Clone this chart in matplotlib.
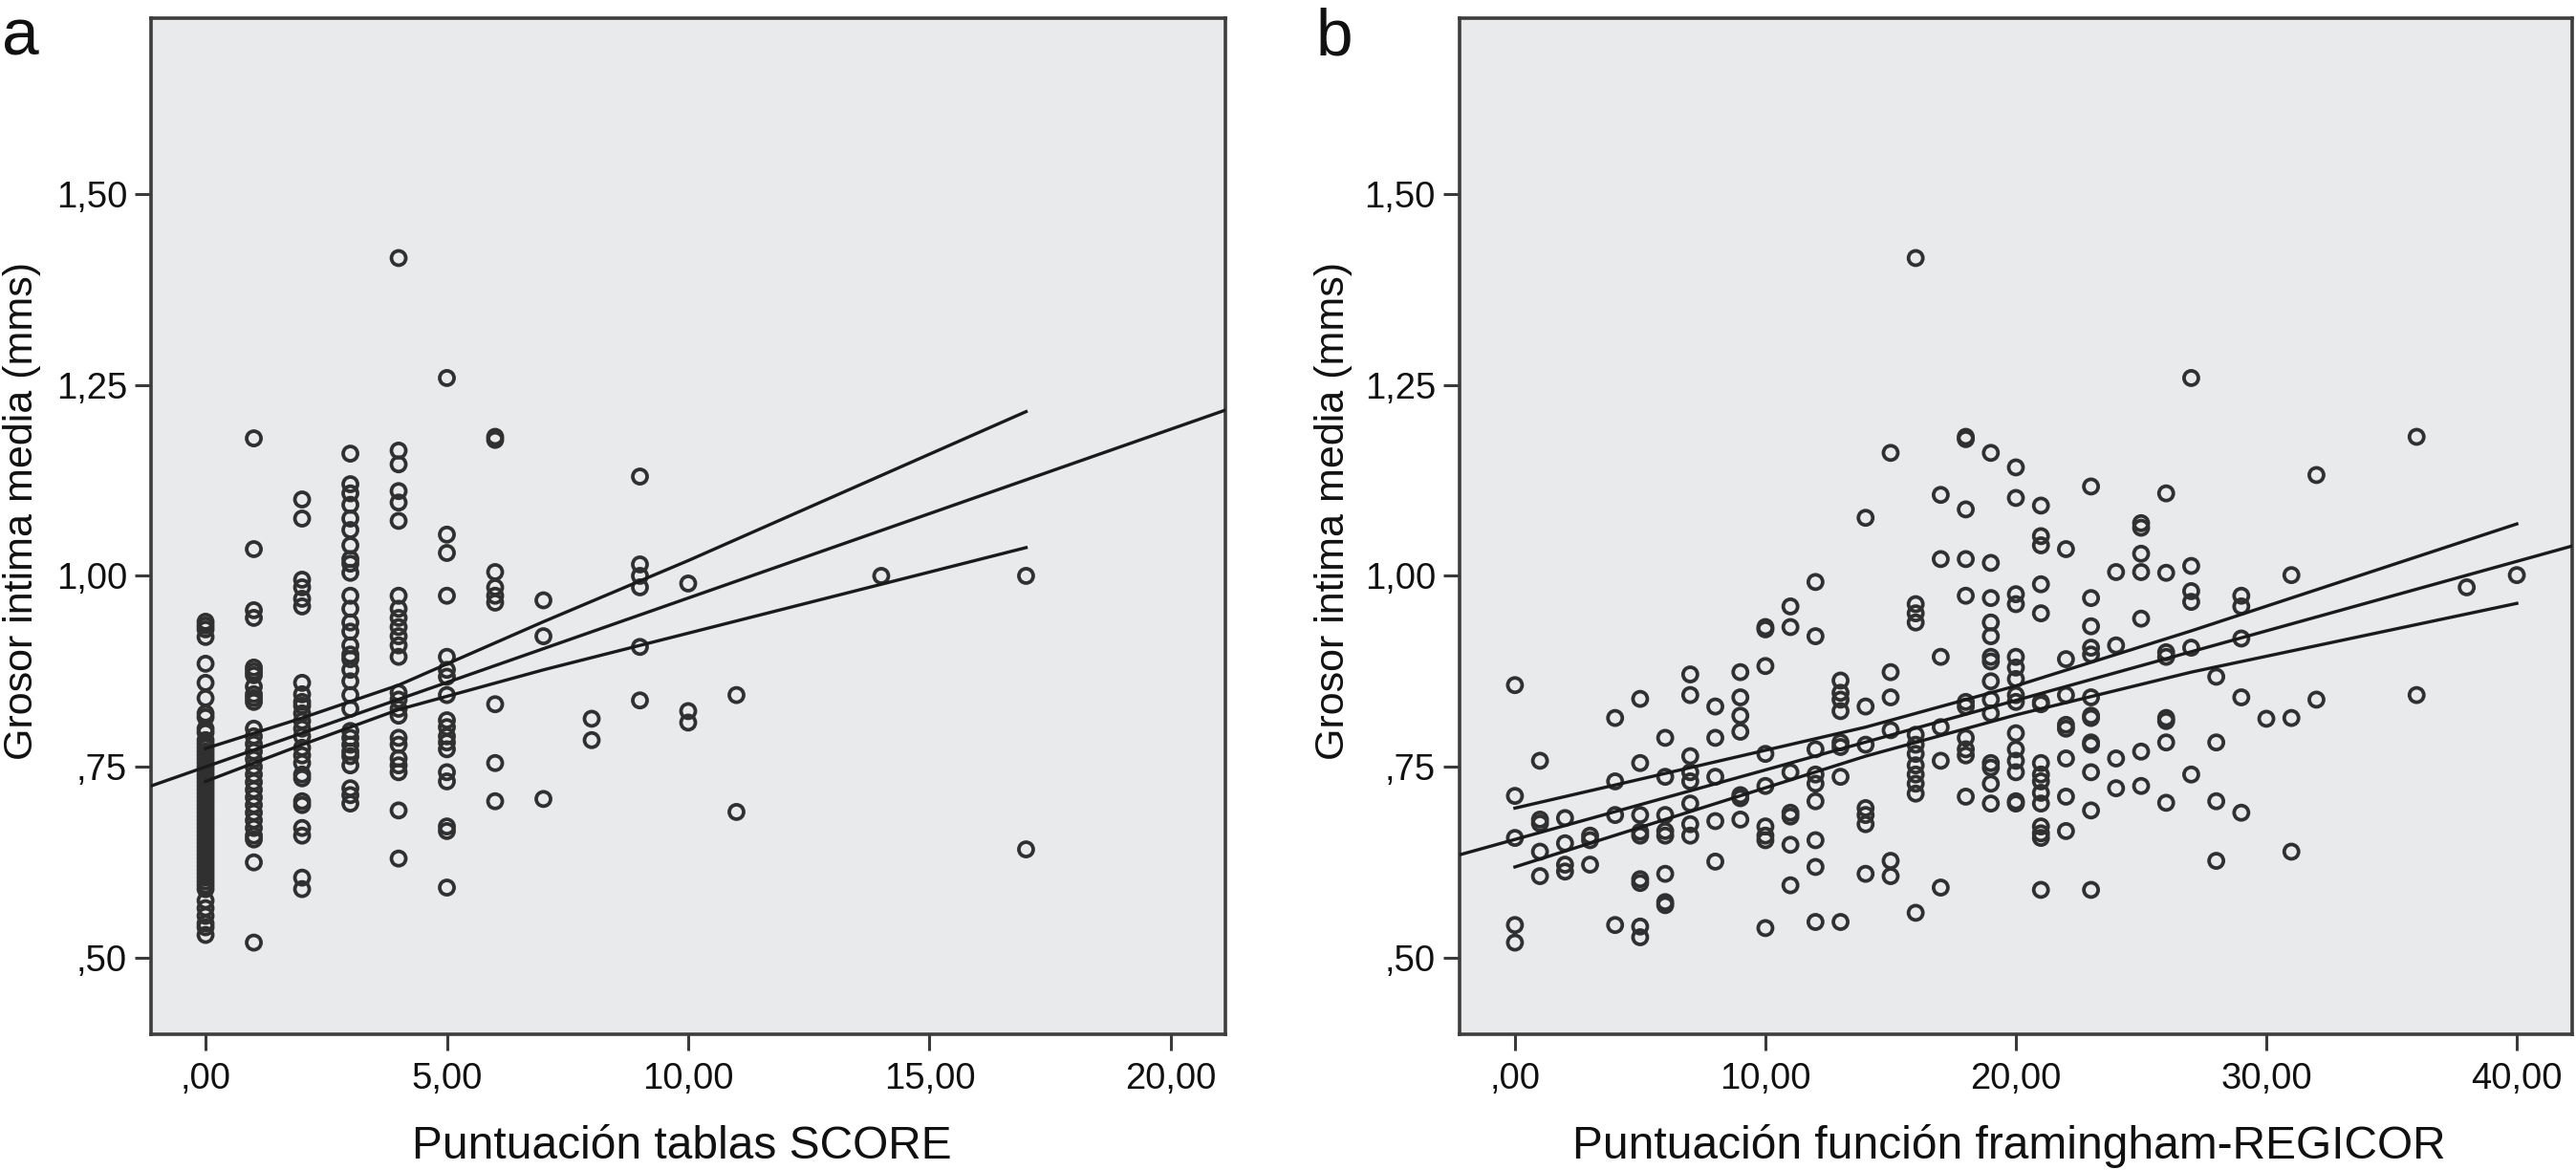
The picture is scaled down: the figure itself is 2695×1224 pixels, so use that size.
import matplotlib
matplotlib.use('Agg')
import matplotlib.pyplot as plt
import numpy as np

plt.rcParams['font.family'] = ['Liberation Sans', 'DejaVu Sans']

# ---- panel a : SCORE ----
SCORE_X = [0, 1, 2, 3, 4, 5, 6, 7, 8, 9, 10, 11, 14, 17]
SCORE_GIM = [
    [0.94, 0.935, 0.93, 0.92, 0.885, 0.86, 0.84, 0.82, 0.815, 0.80, 0.795, 0.785, 0.78, 0.775,
     0.77, 0.765, 0.76, 0.755, 0.75, 0.745, 0.74, 0.735, 0.73, 0.725, 0.72, 0.715, 0.71, 0.705,
     0.70, 0.695, 0.69, 0.685, 0.68, 0.675, 0.67, 0.665, 0.66, 0.655, 0.65, 0.645, 0.64, 0.635,
     0.63, 0.625, 0.62, 0.615, 0.61, 0.605, 0.60, 0.595, 0.59, 0.575, 0.565, 0.555, 0.545, 0.54, 0.53],
    [1.18, 1.035, 0.955, 0.945, 0.88, 0.875, 0.87, 0.855, 0.845, 0.84, 0.835, 0.80, 0.79, 0.78,
     0.77, 0.76, 0.75, 0.74, 0.73, 0.72, 0.71, 0.70, 0.69, 0.68, 0.67, 0.66, 0.655, 0.625, 0.52],
    [1.10, 1.075, 0.995, 0.985, 0.97, 0.96, 0.86, 0.845, 0.835, 0.83, 0.82, 0.81, 0.80, 0.79,
     0.775, 0.765, 0.755, 0.74, 0.735, 0.705, 0.70, 0.67, 0.66, 0.605, 0.59],
    [1.16, 1.12, 1.108, 1.093, 1.075, 1.06, 1.04, 1.022, 1.016, 1.004, 0.974, 0.957, 0.939, 0.927,
     0.909, 0.897, 0.891, 0.877, 0.862, 0.844, 0.826, 0.797, 0.788, 0.779, 0.77, 0.764, 0.752,
     0.722, 0.713, 0.702],
    [1.416, 1.164, 1.146, 1.111, 1.096, 1.072, 0.974, 0.957, 0.945, 0.933, 0.921, 0.909, 0.894,
     0.847, 0.838, 0.826, 0.817, 0.788, 0.779, 0.761, 0.752, 0.743, 0.693, 0.63],
    [1.259, 1.054, 1.03, 0.974, 0.894, 0.877, 0.868, 0.844, 0.811, 0.802, 0.79, 0.782, 0.773,
     0.743, 0.731, 0.672, 0.666, 0.592],
    [1.182, 1.178, 1.005, 0.985, 0.974, 0.965, 0.832, 0.755, 0.705],
    [0.968, 0.921, 0.708],
    [0.813, 0.785],
    [1.13, 1.015, 1.0, 0.985, 0.907, 0.837],
    [0.99, 0.823, 0.808],
    [0.844, 0.691],
    [1.0],
    [1.0, 0.642],
]
SCORE_FIT = (0.750, 0.0221)          # intercept, slope
SCORE_CI_X = [0, 2, 4, 7, 10, 17]
SCORE_CI_UP = [0.774, 0.814, 0.857, 0.94, 1.02, 1.215]
SCORE_CI_LO = [0.731, 0.779, 0.825, 0.877, 0.925, 1.037]

# ---- panel b : framingham-REGICOR ----
REG_X = [0, 1, 2, 3, 4, 5, 6, 7, 8, 9, 10, 11, 12, 13, 14, 15, 16, 17, 18, 19, 20,
         21, 22, 23, 24, 25, 26, 27, 28, 29, 30, 31, 32, 36, 38, 40]
REG_GIM = [
    [0.857, 0.712, 0.657, 0.543, 0.520],
    [0.758, 0.681, 0.676, 0.639, 0.607],
    [0.683, 0.650, 0.622, 0.613],
    [0.660, 0.654, 0.622],
    [0.814, 0.731, 0.687, 0.543],
    [0.839, 0.755, 0.687, 0.665, 0.660, 0.603, 0.598, 0.541, 0.527],
    [0.788, 0.737, 0.687, 0.666, 0.660, 0.610, 0.573, 0.569],
    [0.871, 0.844, 0.764, 0.743, 0.731, 0.702, 0.675, 0.660],
    [0.829, 0.788, 0.737, 0.679, 0.626],
    [0.874, 0.841, 0.817, 0.796, 0.713, 0.709, 0.681],
    [0.933, 0.930, 0.882, 0.767, 0.725, 0.672, 0.660, 0.654, 0.539],
    [0.960, 0.933, 0.743, 0.690, 0.685, 0.648, 0.595],
    [0.992, 0.921, 0.773, 0.740, 0.728, 0.705, 0.654, 0.619, 0.547],
    [0.863, 0.847, 0.838, 0.823, 0.782, 0.776, 0.737, 0.547],
    [1.076, 0.829, 0.779, 0.696, 0.687, 0.675, 0.610],
    [1.161, 0.874, 0.841, 0.798, 0.627, 0.607],
    [1.416, 0.963, 0.951, 0.939, 0.792, 0.779, 0.767, 0.752, 0.740, 0.728, 0.715, 0.559],
    [1.106, 1.022, 0.894, 0.802, 0.758, 0.592],
    [1.182, 1.179, 1.087, 1.022, 0.974, 0.835, 0.829, 0.788, 0.773, 0.765, 0.711],
    [1.161, 1.017, 0.971, 0.939, 0.921, 0.894, 0.888, 0.862, 0.838, 0.820, 0.755, 0.749, 0.728, 0.702],
    [1.142, 1.102, 0.976, 0.963, 0.894, 0.880, 0.865, 0.844, 0.835, 0.794, 0.773, 0.758, 0.743,
     0.705, 0.702],
    [1.092, 1.052, 1.040, 0.989, 0.951, 0.835, 0.832, 0.755, 0.740, 0.731, 0.716, 0.702, 0.672,
     0.663, 0.657, 0.589],
    [1.035, 0.891, 0.844, 0.805, 0.800, 0.761, 0.711, 0.666],
    [1.117, 0.971, 0.934, 0.906, 0.897, 0.841, 0.817, 0.814, 0.782, 0.779, 0.743, 0.693, 0.589],
    [1.005, 0.909, 0.761, 0.722],
    [1.069, 1.063, 1.029, 1.005, 0.944, 0.770, 0.725],
    [1.108, 1.004, 0.900, 0.894, 0.814, 0.810, 0.782, 0.703],
    [1.259, 1.013, 0.980, 0.966, 0.906, 0.740],
    [0.868, 0.782, 0.705, 0.627],
    [0.974, 0.960, 0.918, 0.841, 0.690],
    [0.813],
    [1.001, 0.814, 0.639],
    [1.132, 0.838],
    [1.182, 0.844],
    [0.985],
    [1.001],
]
REG_FIT = (0.655, 0.0091)
REG_CI_X = [0, 14, 20, 27, 40]
REG_CI_UP = [0.696, 0.802, 0.856, 0.928, 1.068]
REG_CI_LO = [0.619, 0.764, 0.818, 0.874, 0.964]

Y_TICKS = [0.50, 0.75, 1.00, 1.25, 1.50]
Y_LABELS = [',50', ',75', '1,00', '1,25', '1,50']
SCORE_TICKS = [0, 5, 10, 15, 20]
SCORE_LABELS = [',00', '5,00', '10,00', '15,00', '20,00']
REG_TICKS = [0, 10, 20, 30, 40]
REG_LABELS = [',00', '10,00', '20,00', '30,00', '40,00']

W, H = 2695, 1224
fig = plt.figure(figsize=(W / 100, H / 100), dpi=100)

BG = '#e9eaec'


def panel(rect, xs, groups, fit, ci_x, ci_up, ci_lo, xlim, ticks, tlabels, xlabel, ylab_x):
    ax = fig.add_axes(rect)
    ax.set_facecolor(BG)
    px = []
    py = []
    for x, g in zip(xs, groups):
        px += [x] * len(g)
        py += g
    ax.scatter(px, py, s=117, facecolors='none', edgecolors='#303030', linewidths=2.7, zorder=3)
    xx = np.array(xlim)
    ax.plot(xx, fit[0] + fit[1] * xx, color='#1a1a1a', lw=2.4, zorder=4)
    ax.plot(ci_x, ci_up, color='#1a1a1a', lw=2.4, zorder=4)
    ax.plot(ci_x, ci_lo, color='#1a1a1a', lw=2.4, zorder=4)
    ax.set_xlim(xlim)
    ax.set_ylim(0.40, 1.73)
    ax.set_xticks(ticks)
    ax.set_xticklabels(tlabels)
    ax.set_yticks(Y_TICKS)
    ax.set_yticklabels(Y_LABELS)
    ax.tick_params(direction='out', length=12, width=2.2, color='#3a3a3a',
                   labelsize=27.5, labelcolor='#111111')
    ax.tick_params(axis='x', pad=9)
    ax.tick_params(axis='y', pad=6)
    for sp in ax.spines.values():
        sp.set_color('#3d3d3d')
        sp.set_linewidth(2.6)
    ax.set_xlabel(xlabel, fontsize=34.5, color='#111111', va='baseline')
    ax.xaxis.set_label_coords(0.494, -0.1223)
    ax.set_ylabel('Grosor intima media (mms)', fontsize=31, color='#111111', va='center')
    ax.yaxis.set_label_coords(ylab_x, 0.515)
    return ax


top = 1 - 19 / H
bot = 1 - 1082 / H
panel([158 / W, bot, (1282 - 158) / W, top - bot], SCORE_X, SCORE_GIM, SCORE_FIT,
      SCORE_CI_X, SCORE_CI_UP, SCORE_CI_LO, (-1.13, 21.13), SCORE_TICKS, SCORE_LABELS,
      'Puntuación tablas SCORE', -0.1197)
panel([1527 / W, bot, (2691 - 1527) / W, top - bot], REG_X, REG_GIM, REG_FIT,
      REG_CI_X, REG_CI_UP, REG_CI_LO, (-2.21, 42.21), REG_TICKS, REG_LABELS,
      'Puntuación función framingham-REGICOR', -0.1134)

fig.text(2 / W, 1 - 58 / H, 'a', fontsize=50, color='#111111', va='baseline')
fig.text(1377 / W, 1 - 58 / H, 'b', fontsize=50, color='#111111', va='baseline')

plt.savefig('out.png', dpi=100, facecolor='white')
plt.close()
